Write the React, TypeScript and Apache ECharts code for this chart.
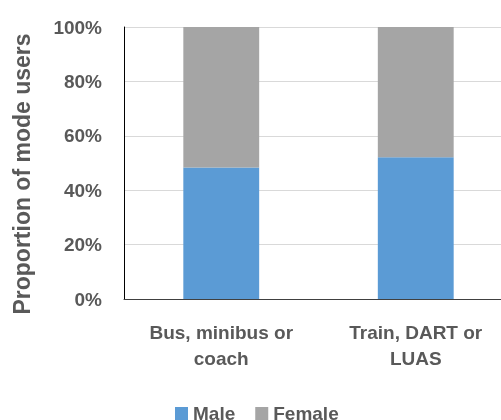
import React, { useEffect, useRef } from "react";
import * as echarts from "echarts";

const categories = ["Bus, minibus or\ncoach", "Train, DART or\nLUAS"];
const maleValues = [48.3, 52.1];
const femaleValues = [51.7, 47.9];
const yTicks = [0, 20, 40, 60, 80, 100];

const FONT = "Liberation Sans";
const TXT = "#595959";

export default function App() {
  const ref = useRef<HTMLDivElement>(null);
  useEffect(() => {
    if (!ref.current) return;
    const chart = echarts.init(ref.current, null, { renderer: "svg" });
    chart.setOption({
      animation: false,
      textStyle: { fontFamily: FONT },
      grid: {
        left: 124,
        top: 27,
        bottom: 121,
        right: -12,
        containLabel: false,
        outerBoundsMode: "none",
      },
      legend: {
        top: 399,
        left: 170,
        itemWidth: 13,
        itemHeight: 13,
        itemGap: 20,
        icon: "rect",
        textStyle: { fontFamily: FONT, fontSize: 19, fontWeight: "bold", color: TXT },
        data: ["Male", "Female"],
      },
      xAxis: {
        type: "category",
        data: categories,
        axisLine: { lineStyle: { color: "#404040", width: 1 } },
        axisTick: { show: false },
        axisLabel: {
          fontFamily: FONT,
          fontSize: 19,
          fontWeight: "bold",
          color: TXT,
          lineHeight: 26,
          margin: 20,
        },
      },
      yAxis: {
        type: "value",
        min: 0,
        max: 100,
        interval: 20,
        name: "Proportion of mode users",
        nameLocation: "middle",
        nameGap: 91,
        nameTextStyle: {
          fontFamily: FONT,
          fontSize: 23,
          fontWeight: "bold",
          color: TXT,
          padding: [0, 22, 0, 0],
        },
        axisLine: { show: true, lineStyle: { color: "#000000", width: 1 } },
        axisTick: { show: false },
        splitLine: { lineStyle: { color: "#D9D9D9", width: 1 } },
        axisLabel: {
          fontFamily: FONT,
          fontSize: 19,
          fontWeight: "bold",
          color: TXT,
          margin: 22,
          formatter: (v: number) => (yTicks.includes(v) ? v + "%" : ""),
        },
      },
      series: [
        {
          name: "Male",
          type: "bar",
          stack: "total",
          data: maleValues,
          barWidth: "39%",
          itemStyle: { color: "#5B9BD5" },
        },
        {
          name: "Female",
          type: "bar",
          stack: "total",
          data: femaleValues,
          barWidth: "39%",
          itemStyle: { color: "#A5A5A5" },
        },
      ],
    });
    return () => chart.dispose();
  }, []);
  return (
    <div
      ref={ref}
      style={{ position: "fixed", left: 0, top: 0, width: 501, height: 420 }}
    />
  );
}
